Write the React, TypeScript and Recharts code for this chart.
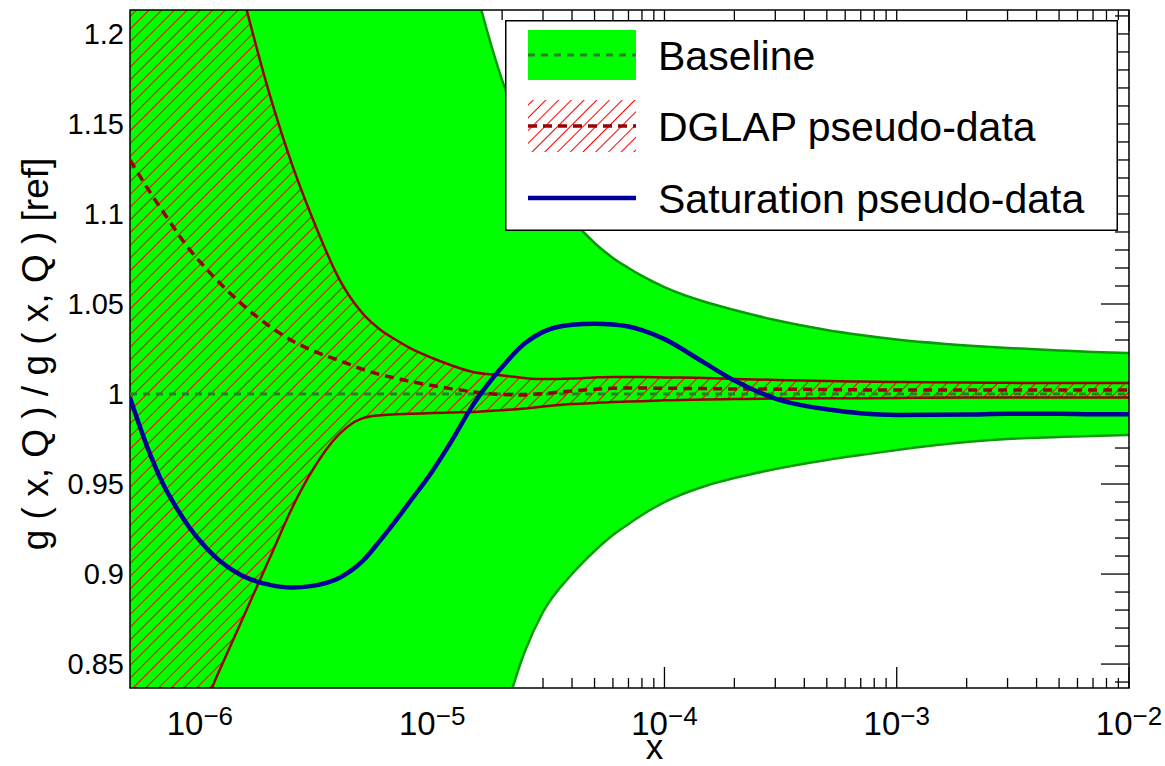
import React from 'react';
import { ComposedChart, Area, Line, XAxis, YAxis, ReferenceArea, Legend, Label } from 'recharts';

const FONT = '"Liberation Sans", Arial, Helvetica, sans-serif';

// x grid shared by all curves
const xValues = [
  5e-7, 6e-7, 7e-7, 8e-7, 9e-7, 1e-6, 1.2e-6, 1.5e-6, 2e-6, 2.5e-6, 3e-6, 4e-6, 5e-6, 6e-6, 7e-6, 8e-6,
  1e-5, 1.2e-5, 1.5e-5, 2e-5, 2.5e-5, 3e-5, 4e-5, 5e-5, 6e-5, 7e-5, 8e-5, 1e-4, 1.5e-4, 2e-4, 3e-4, 5e-4,
  7e-4, 1e-3, 2e-3, 3e-3, 5e-3, 7e-3, 1e-2,
];

// baseline fit: uncertainty band and central value
const baselineHigh = [
  2.25, 2.2, 2.15, 2.1, 2.06, 2.02, 1.95, 1.86, 1.76, 1.68, 1.62, 1.55, 1.48, 1.44, 1.4, 1.37,
  1.333, 1.285, 1.231, 1.1744, 1.1428, 1.1211, 1.0972, 1.0839, 1.0756, 1.07, 1.0656, 1.0594, 1.0511, 1.0467, 1.0411, 1.0356,
  1.0328, 1.0303, 1.027, 1.0256, 1.0242, 1.0234, 1.0228,
];
const baselineLow = [
  0.3, 0.32, 0.34, 0.36, 0.38, 0.4, 0.43, 0.47, 0.51, 0.54, 0.56, 0.59, 0.61, 0.63, 0.65, 0.665,
  0.69, 0.72, 0.76, 0.8178, 0.8567, 0.8789, 0.9, 0.9128, 0.9217, 0.9278, 0.9328, 0.94, 0.9489, 0.9533, 0.9583, 0.9633,
  0.9661, 0.9689, 0.9733, 0.975, 0.9761, 0.9767, 0.9772,
];
const baselineMid = [
  1, 1, 1, 1, 1, 1, 1, 1, 1, 1, 1, 1, 1, 1, 1, 1,
  1, 1, 1, 1, 1, 1, 1, 1, 1, 1, 1, 1, 1, 1, 1, 1,
  1, 1, 1, 1, 1, 1, 1,
];

// fit to DGLAP pseudo-data
const dglapHigh = [
  1.508, 1.458, 1.41, 1.377, 1.347, 1.319, 1.277, 1.226, 1.166, 1.127, 1.1, 1.0633, 1.045, 1.0356, 1.03, 1.0256,
  1.02, 1.0161, 1.0122, 1.0103, 1.0089, 1.0083, 1.0086, 1.0092, 1.0095, 1.0095, 1.0094, 1.0092, 1.0089, 1.0084, 1.0078, 1.0072,
  1.0069, 1.0067, 1.0064, 1.0062, 1.0061, 1.0061, 1.0061,
];
const dglapLow = [
  0.73, 0.755, 0.776, 0.795, 0.811, 0.822, 0.845, 0.873, 0.909, 0.937, 0.956, 0.978, 0.9865, 0.9882, 0.9888, 0.989,
  0.9894, 0.9897, 0.99, 0.991, 0.992, 0.993, 0.9944, 0.995, 0.9956, 0.9958, 0.996, 0.9965, 0.997, 0.9972, 0.9975, 0.9976,
  0.9977, 0.9978, 0.998, 0.998, 0.998, 0.998, 0.998,
];
const dglapMid = [
  1.13, 1.1135, 1.1005, 1.0895, 1.0805, 1.0735, 1.0625, 1.0505, 1.0375, 1.0295, 1.0245, 1.0185, 1.0138, 1.0107, 1.0087, 1.007,
  1.0047, 1.003, 1.0012, 0.9997, 0.9995, 1.0002, 1.0017, 1.0027, 1.0032, 1.0033, 1.0033, 1.0032, 1.003, 1.0028, 1.0027, 1.0025,
  1.0023, 1.0022, 1.0022, 1.0022, 1.0022, 1.0022, 1.0022,
];

// fit to saturation pseudo-data
const saturation = [
  0.998, 0.969, 0.949, 0.936, 0.926, 0.9185, 0.908, 0.8995, 0.894, 0.8925, 0.8933, 0.898, 0.907, 0.919, 0.93, 0.94,
  0.957, 0.973, 0.994, 1.015, 1.028, 1.0345, 1.0385, 1.039, 1.0386, 1.0375, 1.0355, 1.0305, 1.017, 1.0075, 0.9975, 0.9915,
  0.9893, 0.9884, 0.9886, 0.989, 0.989, 0.9888, 0.9888,
];

const X_MIN = 5e-7;
const X_MAX = 1e-2;
const Y_MIN = 0.8367;
const Y_MAX = 1.2133;

const xDecades = [1e-6, 1e-5, 1e-4, 1e-3, 1e-2];
const xDecadeLabels = ['\u22126', '\u22125', '\u22124', '\u22123', '\u22122'];
const yMajorTicks = [0.85, 0.9, 0.95, 1, 1.05, 1.1, 1.15, 1.2];
const yTickLabels = ['0.85', '0.9', '0.95', '1', '1.05', '1.1', '1.15', '1.2'];

const xMinorTicks: number[] = [];
for (let d = -7; d <= -3; d++) {
  for (let k = 2; k <= 9; k++) {
    const v = Number((k * Math.pow(10, d)).toPrecision(3));
    if (v >= X_MIN && v <= X_MAX) xMinorTicks.push(v);
  }
}
const xTicks = [...xMinorTicks, ...xDecades].sort((a, b) => a - b);

const yTicks: number[] = [];
for (let i = 84; i <= 121; i++) yTicks.push(i / 100);

const rows = xValues.map((x, i) => ({
  x,
  baseBand: [baselineLow[i], baselineHigh[i]],
  baseMid: baselineMid[i],
  dglapBand: [dglapLow[i], dglapHigh[i]],
  dglapMid: dglapMid[i],
  saturation: saturation[i],
}));

const GREEN = '#00ff00';
const GREEN_EDGE = '#0a990a';
const GREEN_DASH = '#2a7d2a';
const DARK_RED = '#990000';
const HATCH_RED = '#ff0000';
const BLUE = '#000099';

// the frame ticks are painted before the histograms, so the baseline band hides them
const logX = xValues.map((v) => Math.log10(v));
function bandAt(arr: number[], x: number) {
  const lx = Math.log10(x);
  for (let i = 1; i < logX.length; i++) {
    if (lx <= logX[i] + 1e-9) {
      const t = (lx - logX[i - 1]) / (logX[i] - logX[i - 1]);
      return arr[i - 1] + t * (arr[i] - arr[i - 1]);
    }
  }
  return arr[arr.length - 1];
}
function underBand(x: number, y: number) {
  return y >= bandAt(baselineLow, x) && y <= bandAt(baselineHigh, x);
}

function decadeIndex(v: number) {
  return xDecades.findIndex((d) => Math.abs(d - v) / d < 1e-6);
}

function isYMajor(v: number) {
  return Math.abs(v * 20 - Math.round(v * 20)) < 1e-6;
}

function BottomTick(props: any) {
  const { x, y, payload } = props;
  const di = decadeIndex(payload.value);
  const len = di >= 0 ? 21 : 10;
  const hidden = underBand(payload.value, Y_MIN);
  return (
    <g>
      {!hidden && <line x1={x} y1={y} x2={x} y2={y - len} stroke="#000" strokeWidth={1.3} />}
      {di >= 0 && (
        <text x={x} y={y + 47} textAnchor="middle" fontSize={33} fontFamily={FONT} fill="#000">
          10
          <tspan dy={-10} fontSize={26}>
            {xDecadeLabels[di]}
          </tspan>
        </text>
      )}
    </g>
  );
}

function TopTick(props: any) {
  const { x, y, payload } = props;
  if (underBand(payload.value, Y_MAX)) return <g />;
  const len = decadeIndex(payload.value) >= 0 ? 21 : 10;
  return <line x1={x} y1={y} x2={x} y2={y + len} stroke="#000" strokeWidth={1.3} />;
}

function LeftTick(props: any) {
  const { x, y, payload } = props;
  const major = isYMajor(payload.value);
  const li = yMajorTicks.findIndex((t) => Math.abs(t - payload.value) < 1e-6);
  const hidden = underBand(X_MIN, payload.value);
  return (
    <g>
      {!hidden && <line x1={x} y1={y} x2={x + (major ? 28 : 14)} y2={y} stroke="#000" strokeWidth={1.3} />}
      {li >= 0 && (
        <text x={x - 6} y={y} dy="0.36em" textAnchor="end" fontSize={29} fontFamily={FONT} fill="#000">
          {yTickLabels[li]}
        </text>
      )}
    </g>
  );
}

function RightTick(props: any) {
  const { x, y, payload } = props;
  if (underBand(X_MAX, payload.value)) return <g />;
  const len = isYMajor(payload.value) ? 28 : 14;
  return <line x1={x} y1={y} x2={x - len} y2={y} stroke="#000" strokeWidth={1.3} />;
}

function XTitle(props: any) {
  const { viewBox } = props;
  return (
    <text x={viewBox.x + viewBox.width * 0.525} y={viewBox.y + 71} textAnchor="middle" fontSize={35} fontFamily={FONT} fill="#000">
      x
    </text>
  );
}

function YTitle(props: any) {
  const { viewBox } = props;
  const cx = 48;
  const cy = viewBox.y + viewBox.height / 2 + 5;
  return (
    <text x={cx} y={cy} transform={`rotate(-90, ${cx}, ${cy})`} textAnchor="middle" fontSize={37} fontFamily={FONT} fill="#000">
      g ( x, Q ) / g ( x, Q ) [ref]
    </text>
  );
}

function LegendBox() {
  const t = { fontSize: 41, fontFamily: FONT, fill: '#000' };
  return (
    <svg width={613} height={211} style={{ display: 'block' }}>
      <defs>
        <pattern id="hatchKey" patternUnits="userSpaceOnUse" width={9} height={9} patternTransform="rotate(45)">
          <line x1={4.5} y1={0} x2={4.5} y2={9} stroke={HATCH_RED} strokeWidth={1} />
        </pattern>
      </defs>
      <rect x={0.75} y={0.75} width={611.5} height={209.5} fill="#fff" stroke="#000" strokeWidth={1.5} />
      <rect x={23} y={10} width={108} height={50} fill={GREEN} />
      <line x1={23} x2={131} y1={35} y2={35} stroke={GREEN_DASH} strokeWidth={3} strokeDasharray="7 6" />
      <text x={153} y={35} dy="0.36em" {...t}>Baseline</text>
      <rect x={23} y={80} width={108} height={52} fill="url(#hatchKey)" />
      <line x1={23} x2={131} y1={106} y2={106} stroke={DARK_RED} strokeWidth={3.5} strokeDasharray="9 6" />
      <text x={153} y={106} dy="0.36em" {...t}>DGLAP pseudo-data</text>
      <line x1={23} x2={131} y1={178} y2={178} stroke={BLUE} strokeWidth={4.5} />
      <text x={153} y={178} dy="0.36em" {...t}>Saturation pseudo-data</text>
    </svg>
  );
}

export default function App() {
  return (
    <div style={{ position: 'absolute', left: 0, top: 0, background: '#fff', fontFamily: FONT }}>
      <ComposedChart width={1165} height={766} data={rows} margin={{ top: 9, right: 0, bottom: 0, left: 0 }}>
        <defs>
          <pattern id="dglapHatch" patternUnits="userSpaceOnUse" width={9} height={9} patternTransform="rotate(45)">
            <line x1={4.5} y1={0} x2={4.5} y2={9} stroke={HATCH_RED} strokeWidth={1} />
          </pattern>
        </defs>
        <XAxis
          xAxisId="b"
          dataKey="x"
          type="number"
          scale="log"
          domain={[X_MIN, X_MAX]}
          allowDataOverflow
          ticks={xTicks}
          interval={0}
          tickSize={0}
          tickMargin={0}
          tick={BottomTick}
          axisLine={false}
          height={78}
        >
          <Label content={XTitle} />
        </XAxis>
        <XAxis
          xAxisId="t"
          orientation="top"
          dataKey="x"
          type="number"
          scale="log"
          domain={[X_MIN, X_MAX]}
          allowDataOverflow
          ticks={xTicks}
          interval={0}
          tickSize={0}
          tickMargin={0}
          tick={TopTick}
          axisLine={false}
          height={1}
        />
        <YAxis
          yAxisId="l"
          type="number"
          domain={[Y_MIN, Y_MAX]}
          allowDataOverflow
          ticks={yTicks}
          interval={0}
          tickSize={0}
          tickMargin={0}
          tick={LeftTick}
          axisLine={false}
          width={130}
        >
          <Label content={YTitle} />
        </YAxis>
        <YAxis
          yAxisId="r"
          orientation="right"
          type="number"
          domain={[Y_MIN, Y_MAX]}
          allowDataOverflow
          ticks={yTicks}
          interval={0}
          tickSize={0}
          tickMargin={0}
          tick={RightTick}
          axisLine={false}
          width={36}
        />

        <Area
          xAxisId="b"
          yAxisId="l"
          type="monotone"
          dataKey="baseBand"
          fill={GREEN}
          fillOpacity={1}
          stroke={GREEN_EDGE}
          strokeWidth={2.5}
          isAnimationActive={false}
        />
        <Area
          xAxisId="b"
          yAxisId="l"
          type="monotone"
          dataKey="dglapBand"
          fill="url(#dglapHatch)"
          fillOpacity={1}
          stroke={DARK_RED}
          strokeWidth={2.5}
          isAnimationActive={false}
        />
        <Line
          xAxisId="b"
          yAxisId="l"
          type="monotone"
          dataKey="baseMid"
          stroke={GREEN_DASH}
          strokeWidth={3}
          strokeDasharray="7 6"
          dot={false}
          activeDot={false}
          isAnimationActive={false}
        />
        <Line
          xAxisId="b"
          yAxisId="l"
          type="monotone"
          dataKey="dglapMid"
          stroke={DARK_RED}
          strokeWidth={3.5}
          strokeDasharray="9 6"
          dot={false}
          activeDot={false}
          isAnimationActive={false}
        />
        <Line
          xAxisId="b"
          yAxisId="l"
          type="monotone"
          dataKey="saturation"
          stroke={BLUE}
          strokeWidth={4.5}
          dot={false}
          activeDot={false}
          isAnimationActive={false}
        />
        <ReferenceArea
          xAxisId="b"
          yAxisId="l"
          x1={X_MIN}
          x2={X_MAX}
          y1={Y_MIN}
          y2={Y_MAX}
          fill="none"
          stroke="#000"
          strokeWidth={1.5}
          ifOverflow="visible"
        />
        <Legend
          layout="vertical"
          align="center"
          verticalAlign="middle"
          content={() => <LegendBox />}
          wrapperStyle={{ left: 505, top: 20, width: 613, height: 211 }}
        />
      </ComposedChart>
    </div>
  );
}
